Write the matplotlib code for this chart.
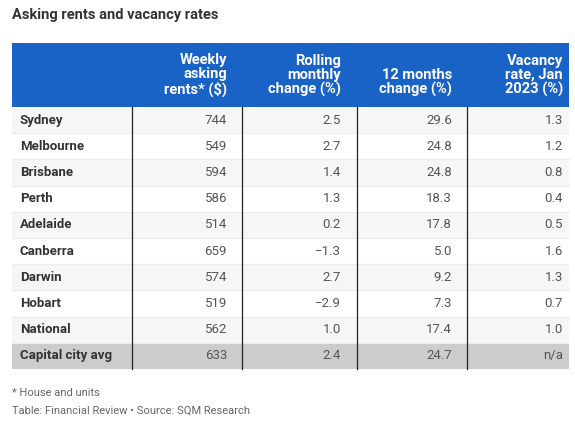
import matplotlib.pyplot as plt
from matplotlib.patches import Rectangle

plt.rcParams["font.family"] = ["Roboto", "DejaVu Sans"]

# table data
cities = ["Sydney", "Melbourne", "Brisbane", "Perth", "Adelaide",
          "Canberra", "Darwin", "Hobart", "National", "Capital city avg"]
weekly_rents = ["744", "549", "594", "586", "514", "659", "574", "519", "562", "633"]
monthly_change = ["2.5", "2.7", "1.4", "1.3", "0.2", "\u22121.3", "2.7", "\u22122.9", "1.0", "2.4"]
annual_change = ["29.6", "24.8", "24.8", "18.3", "17.8", "5.0", "9.2", "7.3", "17.4", "24.7"]
vacancy_rate = ["1.3", "1.2", "0.8", "0.4", "0.5", "1.6", "1.3", "0.7", "1.0", "n/a"]
headers = ["", "Weekly\nasking\nrents* ($)", "Rolling\nmonthly\nchange (%)",
           "12 months\nchange (%)", "Vacancy\nrate, Jan\n2023 (%)"]

columns = [cities, weekly_rents, monthly_change, annual_change, vacancy_rate]

# layout in pixels
W, H = 575, 423
col_edges = [12, 132, 242, 357, 467, 569]
text_right = [None, 227, 341, 452, 563]
head_top, head_bot = 43, 107
row_h = 26.2

fig = plt.figure(figsize=(W / 100, H / 100), dpi=100)
ax = fig.add_axes([0, 0, 1, 1])
ax.set_xlim(0, W)
ax.set_ylim(H, 0)
ax.axis("off")

blue = "#1a63c6"
ax.add_patch(Rectangle((col_edges[0], head_top), col_edges[-1] - col_edges[0],
                       head_bot - head_top, color=blue, lw=0))

for j, h in enumerate(headers):
    if h:
        ax.text(text_right[j], head_bot - 10, h, ha="right", va="bottom",
                color="white", fontsize=10.5, fontweight="bold", linespacing=1.02)

n = len(cities)
for i in range(n):
    top = head_bot + i * row_h
    last = i == n - 1
    bg = "#cccccc" if last else ("#f6f6f6" if i % 2 == 0 else "#ffffff")
    ax.add_patch(Rectangle((col_edges[0], top), col_edges[-1] - col_edges[0],
                           row_h, color=bg, lw=0))
    if not last:
        ax.plot([col_edges[0], col_edges[-1]], [top + row_h, top + row_h],
                color="#ececec", lw=0.8)
    yc = top + row_h / 2
    ax.text(20, yc, cities[i], ha="left", va="center", fontsize=9.5,
            fontweight="bold", color="#333333")
    for j in range(1, 5):
        ax.text(text_right[j], yc, columns[j][i], ha="right", va="center",
                fontsize=9.5, color="#555555")

table_bot = head_bot + n * row_h
for x in col_edges[1:-1]:
    ax.plot([x, x], [head_bot, table_bot], color="#222222", lw=0.9)

ax.text(12, 15, "Asking rents and vacancy rates", ha="left", va="center",
        fontsize=10.5, fontweight="bold", color="#333333")
ax.text(12, 393, "* House and units", ha="left", va="center",
        fontsize=8, color="#666666")
ax.text(12, 411, "Table: Financial Review \u2022 Source: SQM Research", ha="left",
        va="center", fontsize=8, color="#666666")

fig.savefig("out.png", dpi=100)
